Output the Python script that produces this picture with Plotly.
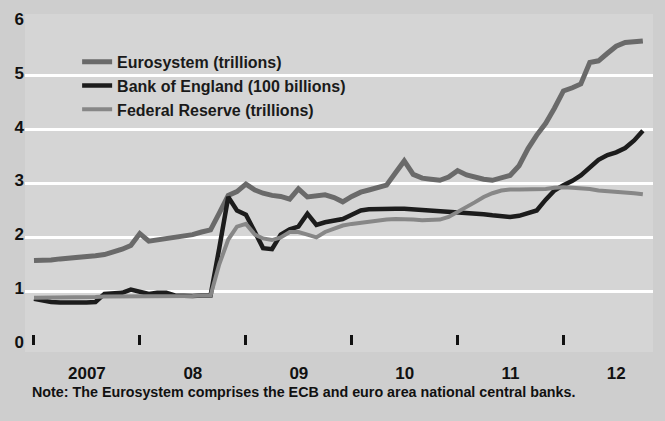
import plotly.graph_objects as go
import pandas as pd

months = pd.date_range("2007-01-01", "2012-10-01", freq="MS")

eurosystem = [1.57, 1.57, 1.58, 1.60, 1.61, 1.62, 1.64, 1.66, 1.68, 1.72, 1.78, 1.85,
              2.07, 1.93, 1.95, 1.97, 1.99, 2.01, 2.05, 2.10, 2.14, 2.45, 2.78, 2.85,
              2.99, 2.88, 2.82, 2.78, 2.76, 2.71, 2.90, 2.75, 2.76, 2.79, 2.74, 2.66,
              2.76, 2.84, 2.88, 2.92, 2.97, 3.20, 3.42, 3.17, 3.10, 3.08, 3.06, 3.12,
              3.24, 3.16, 3.12, 3.08, 3.06, 3.10, 3.15, 3.33, 3.65, 3.90, 4.12, 4.40,
              4.72, 4.78, 4.85, 5.25, 5.28, 5.42, 5.55, 5.62, 5.64, 5.65]

bank_of_england = [0.86, 0.82, 0.80, 0.79, 0.80, 0.79, 0.79, 0.80, 0.95, 0.96, 0.97, 1.03,
                   1.00, 0.95, 0.97, 0.97, 0.92, 0.91, 0.91, 0.92, 0.92, 1.80, 2.75, 2.50,
                   2.42, 2.10, 1.80, 1.78, 2.05, 2.15, 2.20, 2.44, 2.23, 2.28, 2.32, 2.34,
                   2.42, 2.50, 2.52, 2.53, 2.53, 2.53, 2.53, 2.52, 2.50, 2.48, 2.47, 2.47,
                   2.47, 2.46, 2.45, 2.43, 2.41, 2.39, 2.38, 2.40, 2.44, 2.50, 2.70, 2.87,
                   2.97, 3.05, 3.15, 3.30, 3.44, 3.53, 3.58, 3.66, 3.80, 3.98]

federal_reserve = [0.88, 0.88, 0.88, 0.88, 0.89, 0.89, 0.89, 0.89, 0.90, 0.90, 0.90, 0.91,
                   0.91, 0.91, 0.91, 0.91, 0.91, 0.91, 0.91, 0.92, 0.92, 1.50, 1.96, 2.20,
                   2.25, 2.05, 1.98, 1.95, 2.00, 2.10, 2.10, 2.05, 2.00, 2.10, 2.16, 2.22,
                   2.25, 2.27, 2.30, 2.32, 2.33, 2.34, 2.34, 2.33, 2.32, 2.32, 2.33, 2.38,
                   2.47, 2.55, 2.65, 2.75, 2.82, 2.87, 2.89, 2.89, 2.89, 2.89, 2.90, 2.92,
                   2.93, 2.92, 2.91, 2.90, 2.87, 2.86, 2.84, 2.83, 2.82, 2.80]

series_names = ["Eurosystem (trillions)", "Bank of England (100 billions)", "Federal Reserve (trillions)"]
y_ticks = [0, 1, 2, 3, 4, 5, 6]
grid_vals = [1, 2, 3, 4, 5]
note = "Note: The Eurosystem comprises the ECB and euro area national central banks."

FONT = "Liberation Sans, Arial, sans-serif"

fig = go.Figure()
fig.add_trace(go.Scatter(x=months, y=eurosystem, name=series_names[0], mode="lines",
                         line=dict(color="#6a6a6a", width=5)))
fig.add_trace(go.Scatter(x=months, y=bank_of_england, name=series_names[1], mode="lines",
                         line=dict(color="#1c1c1c", width=4.5)))
fig.add_trace(go.Scatter(x=months, y=federal_reserve, name=series_names[2], mode="lines",
                         line=dict(color="#878787", width=4)))

fig.update_layout(
    width=665, height=421,
    margin=dict(l=25, r=12, t=10, b=69),
    paper_bgcolor="#cecece",
    plot_bgcolor="#d5d5d5",
    font=dict(family=FONT, color="#1a1a1a", size=16),
    showlegend=True,
    legend=dict(x=0.083, y=0.909, xanchor="left", yanchor="top",
                bgcolor="rgba(0,0,0,0)", borderwidth=0,
                font=dict(family=FONT, size=16, color="#1a1a1a", weight="bold"),
                tracegroupgap=0),
    xaxis=dict(
        type="date",
        range=["2006-12-01", "2012-11-05"],
        tick0="2007-01-01", dtick="M12",
        ticklabelmode="period",
        tickformat="%y",
        labelalias={"07": "2007"},
        ticks="inside", ticklen=10, tickwidth=2.5, tickcolor="#111111",
        showgrid=False, zeroline=False, showline=False,
        anchor="free", position=0.0205,
        ticklabelstandoff=16,
        tickfont=dict(family=FONT, size=17, color="#111111", weight="bold"),
    ),
    yaxis=dict(
        range=[-0.13, 6.15],
        tickmode="array", tickvals=y_ticks,
        showgrid=False, zeroline=False, showline=False,
        ticks="", ticklabelshift=-3,
        tickfont=dict(family=FONT, size=17, color="#111111", weight="bold"),
        minor=dict(tickmode="array", tickvals=grid_vals, showgrid=True,
                   gridcolor="#ffffff", gridwidth=3, ticks=""),
    ),
)

fig.add_annotation(text=note, xref="paper", yref="paper", x=0.008, y=-0.118,
                   xanchor="left", yanchor="middle", showarrow=False,
                   font=dict(family=FONT, size=14.3, color="#111111", weight="bold"))

fig.write_html("out.html")
